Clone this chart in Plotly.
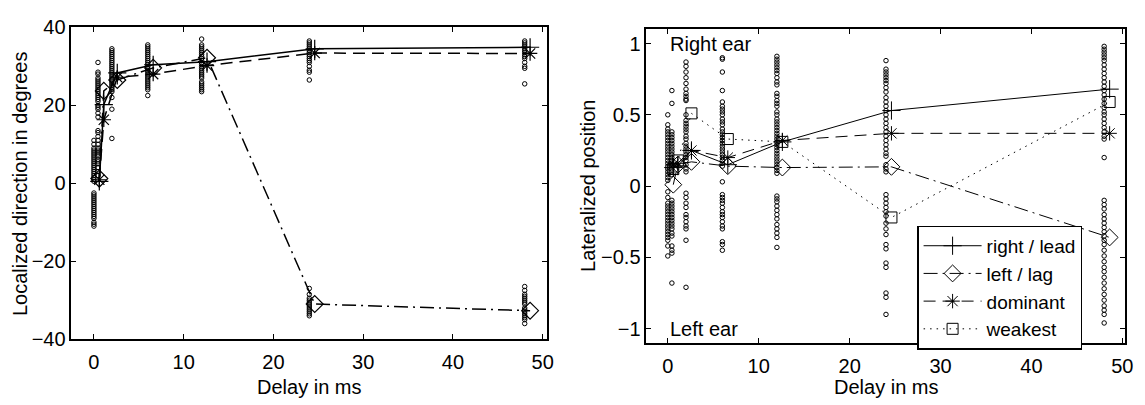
import plotly.graph_objects as go

# ---------------- data ----------------
delays = [0, 0.45, 2, 6, 12, 24, 48]                 # raw-response columns
mean_delays = [0.6, 1.1, 2.6, 6.6, 12.6, 24.6, 48.6]  # where the mean markers sit

# left panel: localized direction (degrees), individual responses per delay
left_pts = [
    [-11, -10.5, -10, -9, -8.5, -8, -7.5, -7, -6.5, -6, -5.5, -5, -4.5, -4, -3.5, -3, -2.5,
     0.5, 1, 1.5, 2, 2.5, 3, 3.5, 4, 4.5, 5, 5.5, 6, 6.5, 7, 7.5, 8, 8.5, 9, 10, 11],
    [31, 28.5, 28, 27, 26.5, 26, 25.5, 25, 24.5, 24, 23.5, 23, 22.5, 22, 21.5, 21, 20, 19.5,
     19, 18, 17, 13.5, 13, 12, 11, 10, 9, 8.5, 8, 7.5, 7, 6, 5.5, 5, 4, 3, 2],
    [34.5, 34, 33.5, 33, 32.5, 32, 31.5, 31, 30.5, 30, 29.5, 29, 28.5, 28, 27.5, 27, 26.5,
     26, 25.5, 25, 24.5, 24, 23.5, 22, 19, 11.5],
    [35.5, 35, 34.5, 34, 33.5, 33, 32.5, 32, 31.5, 31, 30.5, 30, 29.5, 29, 28.5, 28, 27.5,
     27, 26.5, 26, 25.5, 25, 24.5, 24, 22.5],
    [37, 35.5, 35, 34.5, 34, 33.5, 33, 32.5, 32, 31.5, 31, 30.5, 30, 29.5, 29, 28.5, 28,
     27.5, 27, 26, 25.5, 25, 24.5, 24, 23.5],
    [36.5, 36, 35.5, 35, 34.5, 34, 33.5, 33, 32.5, 32, 31.5, 31, 30, 29, 28.5, 26.5,
     -27, -28.5, -29.5, -30, -30.5, -31, -31.5, -32, -32.5, -33, -33.5, -34],
    [36.5, 36, 35.5, 35, 34.5, 34, 33.5, 33, 32.5, 32, 31, 30, 29.5, 25.5,
     -26.5, -27.5, -28.5, -29, -29.5, -30, -30.5, -31, -32, -32.5, -33, -33.5, -34, -34.5, -35, -36],
]
left_lead = [0.5, 20.2, 28.3, 30.4, 31.2, 34.5, 34.9]
left_lag = [1.2, 23.7, 26.5, 29.6, 32.2, -31.0, -32.7]
left_dom = [0.9, 16.3, 27.2, 28.0, 30.2, 33.4, 33.3]

# right panel: lateralized position, individual responses per delay
right_pts = [
    [0.5, 0.43, 0.4, 0.38, 0.36, 0.34, 0.32, 0.3, 0.28, 0.26, 0.24, 0.22, 0.2, 0.18, 0.16,
     0.14, 0.12, 0.1, 0.08, 0.06, 0.04, -0.04, -0.08, -0.12, -0.14, -0.16, -0.18, -0.2,
     -0.22, -0.24, -0.26, -0.28, -0.3, -0.32, -0.34, -0.36, -0.38, -0.42, -0.49],
    [0.67, 0.58, 0.38, 0.36, 0.34, 0.32, 0.3, 0.28, 0.26, 0.24, 0.22, 0.2, 0.18, 0.16, 0.14,
     0.12, 0.1, 0.08, -0.1, -0.12, -0.14, -0.16, -0.18, -0.2, -0.22, -0.24, -0.26, -0.28,
     -0.3, -0.33, -0.35, -0.42, -0.45, -0.47, -0.68],
    [0.87, 0.84, 0.8, 0.76, 0.72, 0.68, 0.65, 0.63, 0.61, 0.6, 0.5, 0.46, 0.44, 0.42, 0.4,
     0.38, 0.35, 0.33, 0.3, 0.28, 0.26, 0.24, 0.22, 0.2, 0.18, 0.15, 0.12, 0.1, -0.05,
     -0.08, -0.12, -0.15, -0.2, -0.22, -0.25, -0.28, -0.3, -0.38, -0.71],
    [0.9, 0.89, 0.8, 0.67, 0.59, 0.56, 0.54, 0.52, 0.5, 0.47, 0.45, 0.43, 0.4, 0.38, 0.36,
     0.34, 0.32, 0.3, 0.28, 0.26, 0.24, 0.22, 0.2, 0.18, 0.16, 0.14, 0.03, -0.06, -0.08,
     -0.1, -0.12, -0.15, -0.18, -0.2, -0.22, -0.25, -0.28, -0.3, -0.39, -0.41, -0.45],
    [0.91, 0.89, 0.87, 0.85, 0.83, 0.81, 0.79, 0.76, 0.73, 0.71, 0.65, 0.63, 0.6, 0.58,
     0.56, 0.52, 0.5, 0.47, 0.45, 0.43, 0.41, 0.39, 0.37, 0.35, 0.33, 0.31, 0.29, 0.27,
     0.25, 0.23, 0.21, 0.19, 0.17, 0.15, 0.13, 0.11, 0.09, -0.07, -0.09, -0.11, -0.14,
     -0.17, -0.2, -0.23, -0.27, -0.3, -0.33, -0.36, -0.43],
    [0.88, 0.82, 0.8, 0.78, 0.76, 0.74, 0.72, 0.69, 0.66, 0.62, 0.59, 0.56, 0.53, 0.5, 0.47,
     0.44, 0.41, 0.38, 0.35, 0.32, 0.29, 0.26, 0.23, 0.21, 0.15, 0.12, 0.1, -0.06, -0.09,
     -0.12, -0.15, -0.18, -0.21, -0.26, -0.3, -0.34, -0.41, -0.44, -0.54, -0.57, -0.75,
     -0.78, -0.9],
    [0.98, 0.96, 0.94, 0.92, 0.9, 0.88, 0.85, 0.82, 0.79, 0.76, 0.73, 0.7, 0.67, 0.64, 0.61,
     0.58, 0.55, 0.52, 0.5, 0.47, 0.44, 0.41, 0.38, 0.35, 0.33, 0.2, -0.1, -0.13, -0.16,
     -0.2, -0.23, -0.26, -0.29, -0.32, -0.35, -0.38, -0.41, -0.45, -0.49, -0.53, -0.57,
     -0.6, -0.64, -0.68, -0.72, -0.76, -0.8, -0.84, -0.87, -0.9, -0.96],
]
right_lead = [0.13, 0.14, 0.25, 0.15, 0.31, 0.53, 0.68]
right_lag = [0.01, 0.15, 0.17, 0.14, 0.13, 0.135, -0.36]
right_dom = [0.15, 0.16, 0.25, 0.20, 0.32, 0.37, 0.37]
right_weak = [0.12, 0.18, 0.51, 0.33, 0.31, -0.22, 0.59]

series_names = ["right / lead", "left / lag", "dominant", "weakest"]
x_ticks = [0, 10, 20, 30, 40, 50]
left_y_ticks = [-40, -20, 0, 20, 40]
right_y_ticks = [-1, -0.5, 0, 0.5, 1]

# ---------------- figure ----------------
FONT = "Liberation Sans, Arial, Helvetica, sans-serif"
FS = 20
W, H = 1145, 405

# axes boxes in pixels (left, right, top, bottom)
L_BOX = (72, 551, 17.3, 347)
R_BOX = (651, 1133, 19.3, 351)

fig = go.Figure()


def flatten(cols):
    xs, ys = [], []
    for d, vals in zip(delays, cols):
        xs += [d] * len(vals)
        ys += vals
    return xs, ys


lx, ly = flatten(left_pts)
fig.add_trace(go.Scatter(x=lx, y=ly, mode="markers", xaxis="x", yaxis="y", showlegend=False,
                         marker=dict(symbol="circle-open", size=4.5, color="black",
                                     line=dict(width=1, color="black"))))
rx, ry = flatten(right_pts)
fig.add_trace(go.Scatter(x=rx, y=ry, mode="markers", xaxis="x2", yaxis="y2", showlegend=False,
                         marker=dict(symbol="circle-open", size=4.5, color="black",
                                     line=dict(width=1, color="black"))))

styles = [
    dict(dash="solid", symbol="cross-thin-open", size=13),
    dict(dash="14px,5px,2px,5px", symbol="diamond-open", size=13),
    dict(dash="12px,7px", symbol="asterisk-open", size=12),
    dict(dash="1.5px,5px", symbol="square-open", size=11),
]

left_series = [left_lead, left_lag, left_dom]
for i, vals in enumerate(left_series):
    st = styles[i]
    fig.add_trace(go.Scatter(
        x=mean_delays, y=vals, mode="lines+markers", xaxis="x", yaxis="y", showlegend=False,
        line=dict(color="black", width=1.5, dash=st["dash"]),
        marker=dict(symbol=st["symbol"], size=st["size"], color="black",
                    line=dict(width=1.2, color="black"))))

right_series = [right_lead, right_lag, right_dom, right_weak]
for i, vals in enumerate(right_series):
    st = styles[i]
    fig.add_trace(go.Scatter(
        x=mean_delays, y=vals, mode="lines+markers", xaxis="x2", yaxis="y2",
        name=series_names[i],
        line=dict(color="black", width=1, dash=st["dash"]),
        marker=dict(symbol=st["symbol"], size=st["size"], color="black",
                    line=dict(width=1, color="black"))))

axis_common = dict(
    showgrid=False, zeroline=False, showline=True, linecolor="black", linewidth=1.8,
    mirror="allticks", ticks="inside", ticklen=5, tickwidth=1, tickcolor="black",
    tickfont=dict(family=FONT, size=FS, color="black"),
)


def txt(text, xpx, ypx, angle=0):
    return dict(x=xpx / W, y=1 - ypx / H, xref="paper", yref="paper", text=text,
                showarrow=False, xanchor="center", yanchor="middle", textangle=angle,
                font=dict(family=FONT, size=FS, color="black"))


fig.update_layout(
    width=W, height=H,
    margin=dict(l=0, r=0, t=0, b=0),
    paper_bgcolor="white", plot_bgcolor="white",
    font=dict(family=FONT, size=FS, color="black"),
    xaxis=dict(domain=[L_BOX[0] / W, L_BOX[1] / W], range=[-2.5, 50.5], tickvals=x_ticks,
               anchor="y", ticklabelstandoff=4, **axis_common),
    yaxis=dict(domain=[1 - L_BOX[3] / H, 1 - L_BOX[2] / H], range=[-40, 40],
               tickvals=left_y_ticks, anchor="x", **axis_common),
    xaxis2=dict(domain=[R_BOX[0] / W, R_BOX[1] / W], range=[-2.35, 50.3], tickvals=x_ticks,
                anchor="y2", ticklabelstandoff=4, **axis_common),
    yaxis2=dict(domain=[1 - R_BOX[3] / H, 1 - R_BOX[2] / H], range=[-1.1, 1.1],
                tickvals=right_y_ticks, anchor="x2", **axis_common),
    legend=dict(x=1090 / W, y=1 - 227 / H, xanchor="right", yanchor="top",
                bgcolor="white", bordercolor="black", borderwidth=1.2,
                font=dict(family=FONT, size=19, color="black"),
                tracegroupgap=0, itemwidth=58),
    annotations=[
        dict(x=0, y=1, xref="x2", yref="y2", text="Right ear", showarrow=False,
             xanchor="left", yanchor="middle",
             font=dict(family=FONT, size=FS, color="black")),
        dict(x=0, y=-1, xref="x2", yref="y2", text="Left ear", showarrow=False,
             xanchor="left", yanchor="middle",
             font=dict(family=FONT, size=FS, color="black")),
        txt("Delay in ms", (L_BOX[0] + L_BOX[1]) / 2, 398),
        txt("Delay in ms", (R_BOX[0] + R_BOX[1]) / 2, 398),
        txt("Localized direction in degrees", 20, (L_BOX[2] + L_BOX[3]) / 2, -90),
        txt("Lateralized position", 592, (R_BOX[2] + R_BOX[3]) / 2, -90),
    ],
)

fig.write_html("out.html")
